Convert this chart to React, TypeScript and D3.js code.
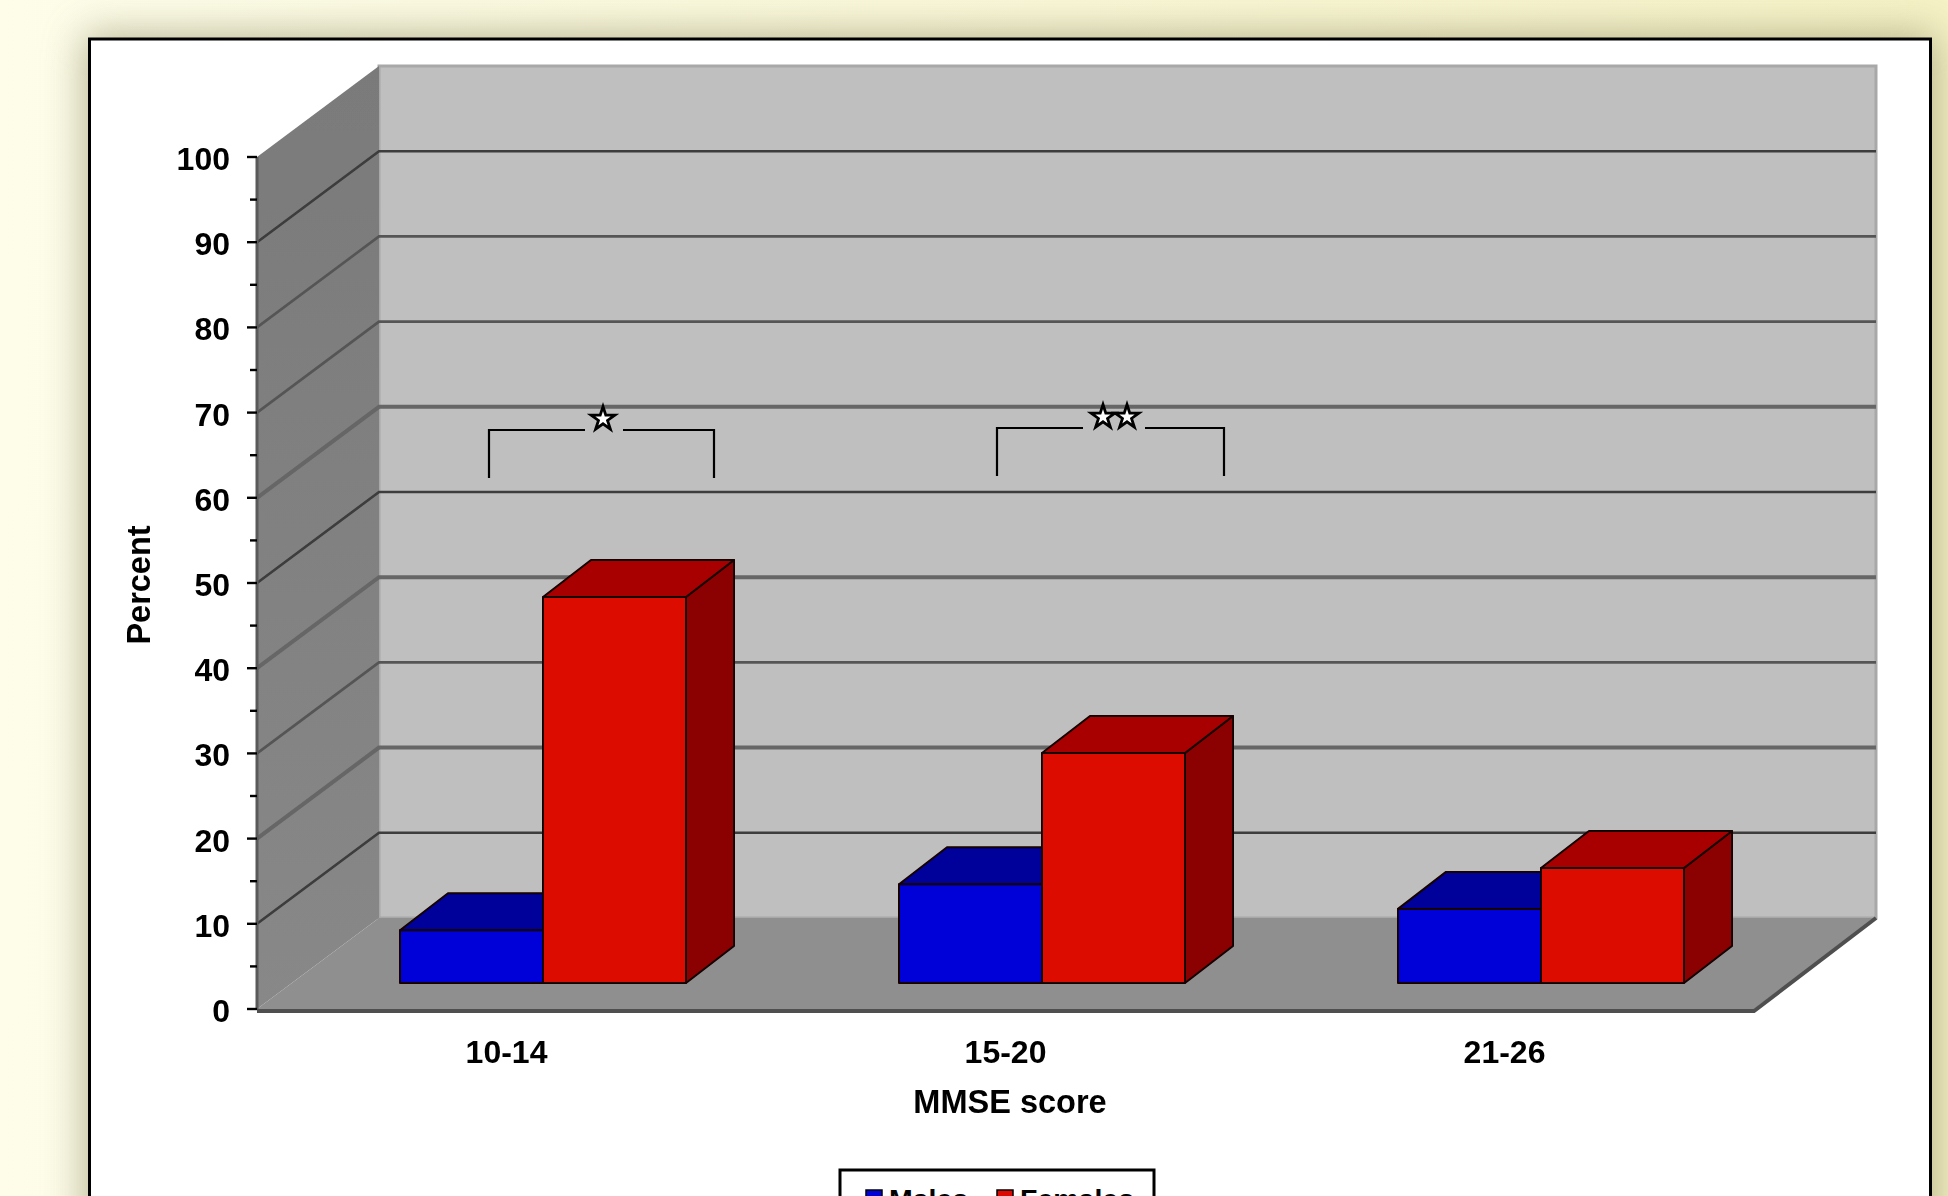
import React from "react";
import * as d3 from "d3";

const categories = ["10-14", "15-20", "21-26"];
const seriesNames = ["Males", "Females"];
const males = [6.2, 11.6, 8.7];
const females = [45.3, 27.0, 13.5];
const majorTicks = [0, 10, 20, 30, 40, 50, 60, 70, 80, 90, 100];
const minorTicks = [5, 15, 25, 35, 45, 55, 65, 75, 85, 95];
const gridLevels = [10, 20, 30, 40, 50, 60, 70, 80, 90];
const thickLevels = [20, 40, 60];
const darkLevels = [10, 50, 90];

const W = 1948, H = 1196;
const FONT = "'Liberation Sans', Arial, sans-serif";
const left = 257, right = 1754, y0 = 1009, y100 = 157;
const depthX = 122, depthY = 91;
const barDX = 48, barDY = 37;
const barBase = 983;

const faces: Record<string, { front: string; top: string; side: string }> = {
  Males: { front: "#0000d8", top: "#00009a", side: "#000080" },
  Females: { front: "#dc0802", top: "#a80400", side: "#8b0000" },
};

const y = d3.scaleLinear().domain([0, 100]).range([y0, y100]);
const x = d3.scaleBand<string>().domain(categories).range([left, right]);
const inner = d3.scaleBand<string>().domain(seriesNames).range([143, 429]);
const unit = y0 - y(1);
const line = d3.line();
const poly = (p: [number, number][]) => line(p) + "Z";

function Bar({ cat, name, value }: { cat: string; name: string; value: number }) {
  const xl = (x(cat) as number) + (inner(name) as number);
  const xr = xl + inner.bandwidth();
  const top = barBase - value * unit;
  const c = faces[name];
  return (
    <g stroke="#140000" strokeWidth={2} strokeLinejoin="round">
      <path d={poly([[xr, barBase], [xr + barDX, barBase - barDY], [xr + barDX, top - barDY], [xr, top]])} fill={c.side} />
      <path d={poly([[xl, top], [xl + barDX, top - barDY], [xr + barDX, top - barDY], [xr, top]])} fill={c.top} />
      <rect x={xl} y={top} width={xr - xl} height={barBase - top} fill={c.front} />
    </g>
  );
}

function starPath(cx: number, cy: number, r: number) {
  const pts: [number, number][] = d3.range(10).map((i) => {
    const a = (Math.PI * i) / 5 - Math.PI / 2;
    const rr = i % 2 === 0 ? r : r * 0.38;
    return [cx + rr * Math.cos(a), cy + rr * Math.sin(a)];
  });
  return poly(pts);
}

function Bracket({ l, r, top, bottom, gapL, gapR, stars }: { l: number; r: number; top: number; bottom: number; gapL: number; gapR: number; stars: number[] }) {
  return (
    <g>
      <path d={`M${l},${bottom}V${top}H${gapL}M${gapR},${top}H${r}V${bottom}`} fill="none" stroke="#000" strokeWidth={2.2} />
      {stars.map((s) => (
        <path key={s} d={starPath(s, top - 11, 12.5)} fill="#fff" stroke="#000" strokeWidth={2.8} strokeLinejoin="miter" />
      ))}
    </g>
  );
}

export default function App() {
  const wall = (v: number) => y(v) - depthY;
  return (
    <svg width={W} height={H} viewBox={`0 0 ${W} ${H}`} style={{ position: "fixed", left: 0, top: 0, display: "block" }} fontFamily={FONT} fontWeight="bold">
      <defs>
        <linearGradient id="bg" x1="0" x2="1" y1="0" y2="0">
          <stop offset="0" stopColor="#fefdea" />
          <stop offset="1" stopColor="#f5f2c6" />
        </linearGradient>
        <linearGradient id="side" x1="0" x2="0" y1="0" y2="1">
          <stop offset="0" stopColor="#7a7a7a" />
          <stop offset="1" stopColor="#888888" />
        </linearGradient>
        <filter id="shadow" x="-10%" y="-20%" width="120%" height="140%">
          <feGaussianBlur stdDeviation="20" />
        </filter>
        <filter id="soft" x="-2%" y="-2%" width="104%" height="104%">
          <feGaussianBlur stdDeviation="0.6" />
        </filter>
        <filter id="softText" x="-5%" y="-20%" width="110%" height="140%">
          <feGaussianBlur stdDeviation="0.35" />
        </filter>
      </defs>
      <rect width={W} height={H} fill="url(#bg)" />
      <rect x={84} y={34} width={1852} height={1400} fill="#8d8960" opacity={0.6} filter="url(#shadow)" />
      <rect x={89.5} y={39} width={1841} height={1400} fill="#fff" stroke="#000" strokeWidth={3} />

      <g filter="url(#soft)">
        <path d={poly([[left + depthX, wall(100)], [right + depthX, wall(100)], [right + depthX, wall(0)], [left + depthX, wall(0)]])} fill="#bfbfbf" stroke="#a8a8a8" strokeWidth={3} />
        <path d={poly([[left, y(100)], [left + depthX, wall(100)], [left + depthX, wall(0)], [left, y(0)]])} fill="url(#side)" />
        <path d={poly([[left, y(0)], [left + depthX, wall(0)], [right + depthX, wall(0)], [right, y(0)]])} fill="#8f8f8f" />
        {gridLevels.map((v) => (
          <path
            key={v}
            d={`M${left},${y(v)}L${left + depthX},${wall(v)}H${right + depthX}`}
            fill="none"
            stroke={darkLevels.includes(v) ? "#3c3c3c" : thickLevels.includes(v) ? "#666" : "#555"}
            strokeWidth={thickLevels.includes(v) ? 4 : 2.6}
          />
        ))}
        <path d={`M${left},${y(100)}V${y(0)}`} stroke="#5a5a5a" strokeWidth={3} />
        <path d={`M${left},${y(0) + 2}H${right}L${right + depthX},${wall(0)}`} fill="none" stroke="#505050" strokeWidth={4} />
        {majorTicks.map((t) => (
          <line key={t} x1={left - 10} x2={left} y1={y(t)} y2={y(t)} stroke="#000" strokeWidth={2.4} />
        ))}
        {minorTicks.map((t) => (
          <line key={t} x1={left - 7} x2={left} y1={y(t)} y2={y(t)} stroke="#000" strokeWidth={2.4} />
        ))}
        {categories.map((c, i) => (
          <g key={c}>
            <Bar cat={c} name="Males" value={males[i]} />
            <Bar cat={c} name="Females" value={females[i]} />
          </g>
        ))}
      </g>

      <Bracket l={489} r={714} top={430} bottom={478} gapL={585} gapR={623} stars={[603]} />
      <Bracket l={997} r={1224} top={428} bottom={476} gapL={1083} gapR={1145} stars={[1103, 1127]} />

      <g filter="url(#softText)">
        {majorTicks.map((t) => (
          <text key={t} x={230} y={y(t) + 13} textAnchor="end" fontSize={32}>{t}</text>
        ))}
        {categories.map((c) => (
          <text key={c} x={(x(c) as number) + x.bandwidth() / 2} y={1063} textAnchor="middle" fontSize={32}>{c}</text>
        ))}
        <text x={1010} y={1113} textAnchor="middle" fontSize={32.5}>MMSE score</text>
        <text transform="translate(150,585) rotate(-90)" textAnchor="middle" fontSize={32.5}>Percent</text>
      </g>

      <rect x={840} y={1170} width={314} height={60} fill="#fff" stroke="#000" strokeWidth={3} />
      <rect x={866} y={1190} width={16} height={16} fill="#0000d8" stroke="#000" strokeWidth={1.5} />
      <text x={889} y={1209} fontSize={28.5}>{seriesNames[0]}</text>
      <rect x={997} y={1190} width={16} height={16} fill="#dc0802" stroke="#000" strokeWidth={1.5} />
      <text x={1020} y={1209} fontSize={28.5}>{seriesNames[1]}</text>
    </svg>
  );
}
